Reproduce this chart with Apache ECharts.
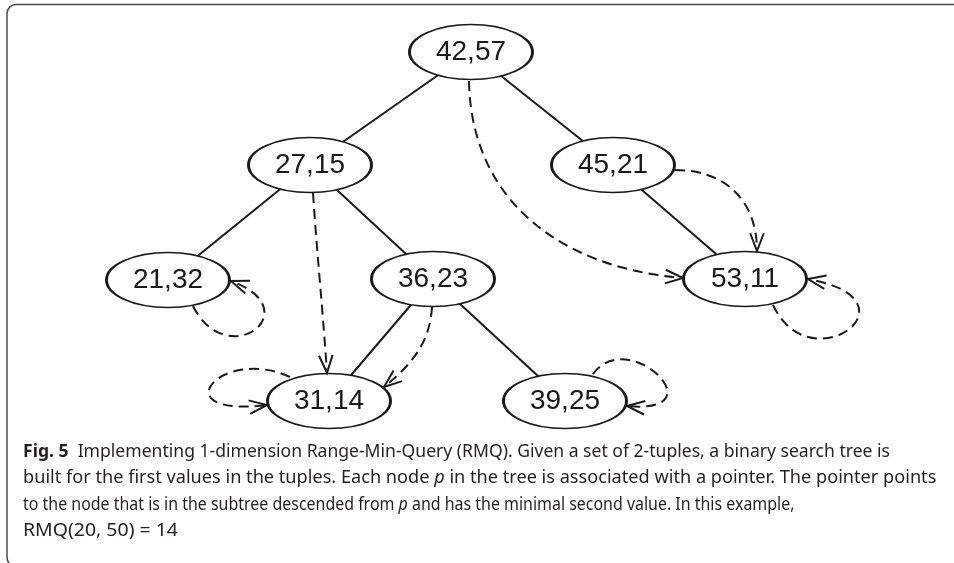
<!DOCTYPE html>
<html>
<head>
<meta charset="utf-8">
<script src="https://cdn.jsdelivr.net/npm/echarts@6/dist/echarts.min.js"></script>
<style>
    html, body {margin: 0; padding: 0; background: #fff;}
    #chart {width: 954px; height: 563px;}
</style>
</head>
<body>
<div id="chart"></div>
<script>
// tree nodes: (first value, second value)
let firstValues = [42, 27, 45, 21, 36, 53, 31, 39];
let secondValues = [57, 15, 21, 32, 23, 11, 14, 25];
let parentOf = [-1, 0, 0, 1, 1, 2, 4, 4];
// node whose second value is minimal in each subtree
let pointerTo = [5, 6, 5, 3, 6, 5, 6, 7];
// node placement on the drawing plane
let nodeX = [471, 310, 613, 168, 433, 745, 329, 565];
let nodeY = [52, 165, 165, 280, 279, 279, 401, 401];

let captionLines = [
    '{b|Fig. 5}  Implementing 1-dimension Range-Min-Query (RMQ). Given a set of 2-tuples, a binary search tree is',
    'built for the first values in the tuples. Each node {i|p} in the tree is associated with a pointer. The pointer points',
    'to the node that is in the subtree descended from {i|p} and has the minimal second value. In this example,',
    'RMQ(20, 50) = 14'
];
let captionWidths = [867, 914, 772, 155];

const INK = '#1a1a1a';
const CAP_INK = '#231f20';
const CAP_FONT = '"Noto Sans", "Open Sans", sans-serif';

// shape of each dashed pointer: start/end offsets on the ellipses, control offsets
let pointerGeom = [
    {s: [-2, 29], e: [-62, -1], c1: [2, 119], c2: [-123, -10]},
    {s: [3, 28], e: [-2, -28], c1: [4, 60], c2: [-4, -60]},
    {s: [62, 5], e: [12, -28], c1: [50, 0], c2: [0, -51]},
    {s: [25, 26], e: [63, 1], c1: [34, 68], c2: [80, 29]},
    {s: [-1, 28], e: [55, -14], c1: [-2, 33], c2: [31, -25]},
    {s: [28, 26], e: [63, 0], c1: [37, 80], c2: [117, 21]},
    {s: [-39, -24], e: [-62, 4], c1: [-70, -32], c2: [-107, 13]},
    {s: [28, -27], e: [62, 5], c1: [35, -49], c2: [93, 9]}
];

function getNodes(){
    let result = [];
    for(let i = 0;i < firstValues.length;i++){
        result.push({name: firstValues[i] + ',' + secondValues[i], value: [nodeX[i], nodeY[i]]});
    }
    return result;
}

function getEdges(){
    let result = [];
    for(let i = 0;i < parentOf.length;i++){
        if(parentOf[i] >= 0){
            result.push({source: parentOf[i], target: i});
        }
    }
    return result;
}

function measure(text, font){
    let ctx = document.createElement('canvas').getContext('2d');
    ctx.font = font;
    return ctx.measureText(text).width;
}

function lineWidth(line){
    let w = 0;
    let rest = line.replace(/\{b\|([^}]*)\}/g, function(m, t){
        w += measure(t, 'bold 18px ' + CAP_FONT);
        return '';
    }).replace(/\{i\|([^}]*)\}/g, '$1');
    return w + measure(rest, '18px ' + CAP_FONT);
}

function captionGraphics(){
    let items = [];
    for(let i = 0;i < captionLines.length;i++){
        items.push({
            type: 'text',
            x: 23,
            y: 452 + i * 26.2,
            // squeeze each line to the width it takes in the figure
            scaleX: captionWidths[i] / lineWidth(captionLines[i]),
            silent: true,
            style: {
                text: captionLines[i],
                font: '18px ' + CAP_FONT,
                fill: CAP_INK,
                verticalAlign: 'middle',
                rich: {
                    b: {fontWeight: 'bold', fontSize: 18, fontFamily: CAP_FONT, fill: CAP_INK},
                    i: {fontStyle: 'italic', fontSize: 18, fontFamily: CAP_FONT, fill: CAP_INK}
                }
            }
        });
    }
    // figure frame
    items.push({
        type: 'rect',
        silent: true,
        shape: {x: 7, y: 4.5, width: 1000, height: 562, r: 9},
        style: {fill: null, stroke: '#4a4a4a', lineWidth: 1.5}
    });
    return items;
}

function renderPointer(params, api){
    let from = api.value(0);
    let to = api.value(1);
    let g = pointerGeom[from];
    let a = api.coord([nodeX[from], nodeY[from]]);
    let b = api.coord([nodeX[to], nodeY[to]]);
    let x1 = a[0] + g.s[0], y1 = a[1] + g.s[1];
    let x2 = b[0] + g.e[0], y2 = b[1] + g.e[1];
    let cx1 = x1 + g.c1[0], cy1 = y1 + g.c1[1];
    let cx2 = x2 + g.c2[0], cy2 = y2 + g.c2[1];
    // open arrow head along the end tangent
    let dx = x2 - cx2, dy = y2 - cy2;
    let len = Math.sqrt(dx * dx + dy * dy);
    dx /= len; dy /= len;
    let L = 19, ang = 21 * Math.PI / 180;
    let cs = Math.cos(ang), sn = Math.sin(ang);
    let b1 = [x2 - L * (dx * cs - dy * sn), y2 - L * (dy * cs + dx * sn)];
    let b2 = [x2 - L * (dx * cs + dy * sn), y2 - L * (dy * cs - dx * sn)];
    return {
        type: 'group',
        children: [{
            type: 'bezierCurve',
            shape: {x1: x1, y1: y1, x2: x2, y2: y2, cpx1: cx1, cpy1: cy1, cpx2: cx2, cpy2: cy2},
            style: {fill: null, stroke: INK, lineWidth: 2, lineDash: [10, 6]}
        }, {
            type: 'polyline',
            shape: {points: [b1, [x2, y2], b2]},
            style: {fill: null, stroke: INK, lineWidth: 2}
        }]
    };
}

let pointerData = [];
for(let i = 0;i < pointerTo.length;i++){
    pointerData.push([i, pointerTo[i]]);
}

let myChart = echarts.init(document.getElementById('chart'));
myChart.setOption({
    animation: false,
    grid: {left: 0, right: 0, top: 0, bottom: 0},
    xAxis: {type: 'value', min: 0, max: 954, show: false},
    yAxis: {type: 'value', min: 0, max: 563, inverse: true, show: false},
    graphic: captionGraphics(),
    series: [{
        type: 'graph',
        layout: 'none',
        coordinateSystem: 'cartesian2d',
        silent: true,
        symbol: 'path://M0,28 A62,28 0 1,0 124,28 A62,28 0 1,0 0,28 Z',
        symbolSize: [123, 55],
        itemStyle: {color: '#fff', borderColor: INK, borderWidth: 2},
        label: {
            show: true,
            position: 'inside',
            formatter: '{b}',
            fontSize: 28,
            fontFamily: '"Liberation Sans", Arial, sans-serif',
            color: INK
        },
        lineStyle: {color: INK, width: 2, opacity: 1, curveness: 0},
        emphasis: {disabled: true},
        data: getNodes(),
        links: getEdges(),
        z: 2
    }, {
        type: 'custom',
        coordinateSystem: 'cartesian2d',
        silent: true,
        clip: false,
        renderItem: renderPointer,
        encode: {x: 0, y: 1},
        data: pointerData,
        z: 3
    }]
});
</script>
</body>
</html>
